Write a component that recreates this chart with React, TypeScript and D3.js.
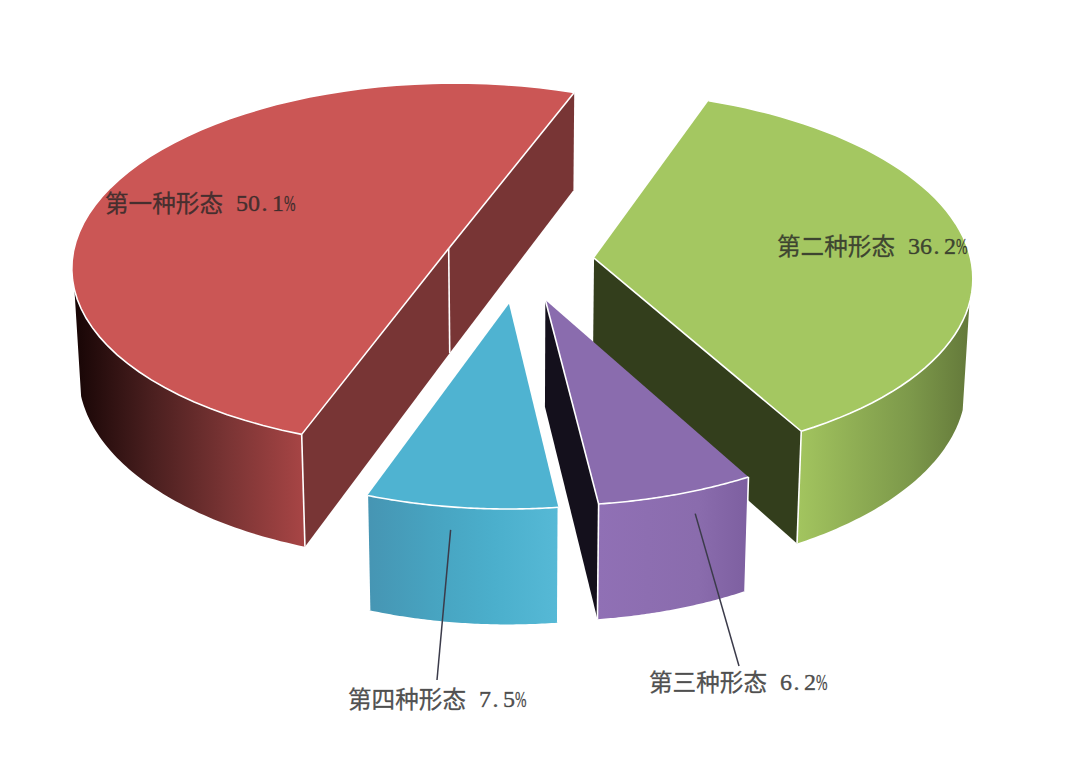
import React from 'react';
import * as d3 from 'd3';

const names = ['第一种形态', '第二种形态', '第三种形态', '第四种形态'];
const shares = [50.1, 36.2, 6.2, 7.5];
const shareLabels = ['50.1%', '36.2%', '6.2%', '7.5%'];

const topColors = ['#cb5655', '#a4c761', '#8a6cae', '#4fb3d1'];
const wallColors = ['#783535', '#333e1c', '#14101c', '#3c8aa5'];
const outerStops = [
  ['#170505', '#4a1f1f', '#7a3434', '#a84545'],
  ['#a3c55f', '#8fae54', '#7c984a', '#64793a'],
  ['#9070b5', '#8d6eb1', '#8a6cad', '#7d5fa0'],
  ['#4695b3', '#47a3c0', '#4bafcc', '#56b9d6'],
];
const pull = [0.2, 0.2, 0.22, 0.23];
const sliceScale = [1, 1, 0.98, 0.975];

const width = 1080;
const height = 762;
const cx = 519;
const cy = 261;
const radiusX = 377;
const radiusY = 183;
const perspective = 0.093;
const depthPerspective = 0.075;
const depth = 105;
const baseShrink = 0.985;
const rad = Math.PI / 180;
const firstAngle = 200 * rad;
const frontFrom = 104 * rad;
const frontTo = 257 * rad;
const digitCell = 12;

const xScale = d3.scaleLinear().domain([-1, 1]).range([cx - radiusX, cx + radiusX]);
const yScale = d3.scaleLinear().domain([-1, 1]).range([cy - radiusY, cy + radiusY]);
const line = d3.line<number[]>().x(d => d[0]).y(d => d[1]);

// plane -> screen, level 0 is the top face and 1 the bottom one
const project = (px: number, py: number, level = 0): number[] => {
  const w = 1 - perspective * py;
  const x = xScale(px / w);
  const y = yScale(py / w);
  return [
    cx + (x - cx) * (1 + (baseShrink - 1) * level),
    y + (level * depth) / (1 - depthPerspective * py),
  ];
};

const cross = (a: number[], b: number[], c: number[], d: number[]) =>
  (b[0] - a[0]) * (d[1] - c[1]) - (b[1] - a[1]) * (d[0] - c[0]);

const arcs = d3.pie<number>().sort(null).startAngle(firstAngle).endAngle(firstAngle + 2 * Math.PI)(shares);

const labelText = [
  { x: 105, y: 212, leader: null },
  { x: 777, y: 255, leader: null },
  { x: 649, y: 691, leader: { angle: 159, drop: 0.2, tx: 739, ty: 666 } },
  { x: 348, y: 708, leader: { angle: 188, drop: 0.2, tx: 437, ty: 680 } },
];

const slices = arcs.map((a, i) => {
  // d3.pie keeps counting past a full turn, fold the slice back to 0..2pi
  const turn = a.startAngle >= 2 * Math.PI ? 2 * Math.PI : 0;
  const t0 = a.startAngle - turn;
  const t1 = a.endAngle - turn;
  const mid = (t0 + t1) / 2;
  const r = sliceScale[i];
  const ox = pull[i] * Math.sin(mid);
  const oy = -pull[i] * Math.cos(mid);
  const at = (t: number, level = 0) => project(ox + r * Math.sin(t), oy - r * Math.cos(t), level);
  const apex = (level = 0) => project(ox, oy, level);
  const sweep = (from: number, to: number, level = 0) =>
    d3.range(0, 61).map(k => at(from + ((to - from) * k) / 60, level));

  const faceVisible = (t: number, inner: number) =>
    cross(apex(), at(t), apex(), at(inner)) * cross(apex(), at(t), apex(), apex(1)) < 0;

  // the part of the rim turned to the viewer
  const from = Math.max(t0, frontFrom);
  const to = Math.min(t1, frontTo);
  const rimTop = from < to ? sweep(from, to) : [];
  const rimBottom = from < to ? sweep(from, to, 1) : [];
  return { i, at, apex, sweep, faceVisible, t0, t1, from, to, rimTop, rimBottom };
});

const App = () => (
  <svg width={width} height={height} style={{ position: 'absolute', left: 0, top: 0, background: '#fff' }}>
    <defs>
      {slices.map(s => {
        const xs = s.rimBottom.concat(s.rimTop).map(d => d[0]);
        const [x0, x1] = d3.extent(xs) as [number, number];
        return (
          <linearGradient key={s.i} id={`rim${s.i}`} gradientUnits="userSpaceOnUse" x1={x0} x2={x1} y1={0} y2={0}>
            {outerStops[s.i].map((c, k) => (
              <stop key={k} offset={k / 3} stopColor={c} />
            ))}
          </linearGradient>
        );
      })}
    </defs>

    {slices.map(s => {
      const faces = [
        { t: s.t0, inner: s.t0 + 0.2 },
        { t: s.t1, inner: s.t1 - 0.2 },
      ].filter(f => s.faceVisible(f.t, f.inner));
      const rimEnds = [...(s.from === s.t0 ? [s.t0] : []), ...(s.to === s.t1 ? [s.t1] : [])];
      return (
        <g key={s.i}>
          {faces.map((f, k) => (
            <path
              key={k}
              d={line([s.apex(), s.at(f.t), s.at(f.t, 1), s.apex(1)]) + 'Z'}
              fill={wallColors[s.i]}
            />
          ))}
          {s.rimTop.length > 0 && (
            <path d={line(s.rimTop.concat(s.rimBottom.slice().reverse())) + 'Z'} fill={`url(#rim${s.i})`} />
          )}
          <path d={line([s.apex(), ...s.sweep(s.t0, s.t1)]) + 'Z'} fill={topColors[s.i]} />
          <path d={line(s.sweep(s.t0, s.t1)) as string} fill="none" stroke="#fff" strokeWidth={1.6} />
          {faces.map((f, k) => (
            <path key={k} d={line([s.apex(), s.at(f.t)]) as string} fill="none" stroke="#fff" strokeWidth={1.6} />
          ))}
          {faces.length === 2 && (
            <path d={line([s.apex(), s.apex(1)]) as string} fill="none" stroke="#fff" strokeWidth={1.6} />
          )}
          {rimEnds.map((t, k) => (
            <path key={k} d={line([s.at(t), s.at(t, 1)]) as string} fill="none" stroke="#fff" strokeWidth={1.6} />
          ))}
        </g>
      );
    })}

    {slices.map(s => {
      const lead = labelText[s.i].leader;
      if (!lead) return null;
      const top = s.at(lead.angle * rad);
      const bottom = s.at(lead.angle * rad, 1);
      const start = [top[0] + (bottom[0] - top[0]) * lead.drop, top[1] + (bottom[1] - top[1]) * lead.drop];
      return (
        <path
          key={s.i}
          d={line([start, [lead.tx, lead.ty]]) as string}
          fill="none"
          stroke="#3b3b4a"
          strokeWidth={1.5}
        />
      );
    })}

    {names.map((name, i) => {
      const { x, y } = labelText[i];
      return (
        <g key={name} fill="#262626" fillOpacity={0.8} stroke="#262626" strokeOpacity={0.5}>
          <text
            x={x}
            y={y}
            fontFamily="'Noto Sans CJK SC'"
            fontSize={23.6}
            strokeWidth={0.45}
            textLength={118}
            lengthAdjust="spacingAndGlyphs"
          >
            {name}
          </text>
          {/* the figures sit in half-width cells, as in a fixed-pitch font */}
          {shareLabels[i].split('').map((ch, k) => (
            <text
              key={k}
              x={x + 131 + k * digitCell}
              y={y - 1}
              dx={ch === '.' ? 1.5 : 0}
              fontFamily="'Liberation Serif'"
              fontSize={24}
              strokeWidth={0.6}
              textLength={ch === '%' ? digitCell - 0.5 : undefined}
              lengthAdjust="spacingAndGlyphs"
            >
              {ch}
            </text>
          ))}
        </g>
      );
    })}
  </svg>
);

export default App;
